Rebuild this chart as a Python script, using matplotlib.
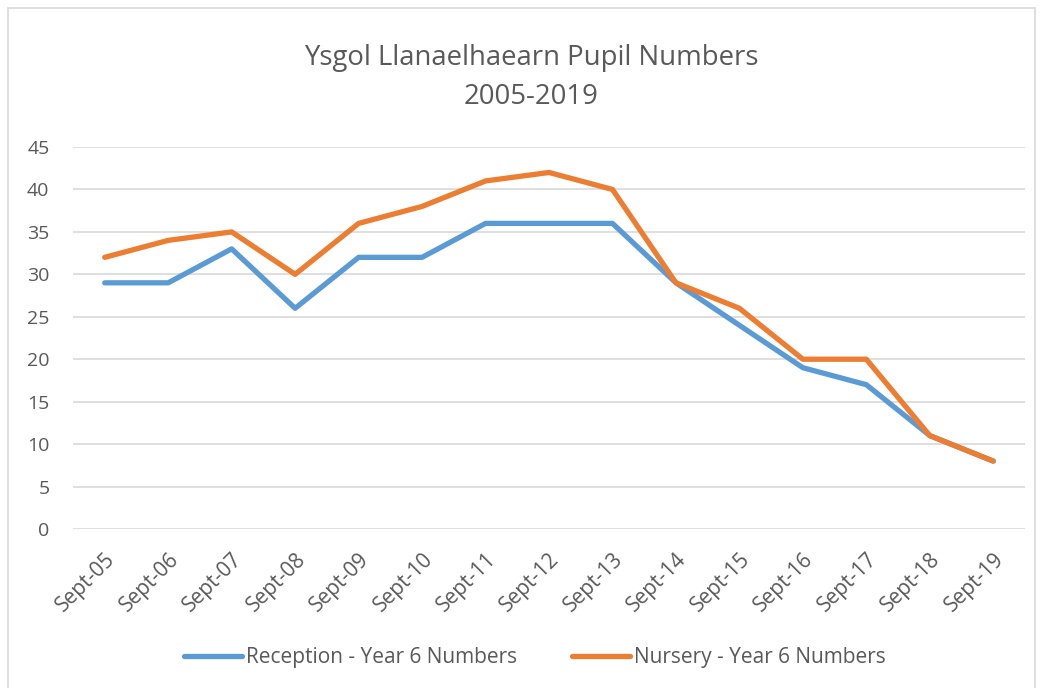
import matplotlib.pyplot as plt
from matplotlib.patches import Rectangle

years = ['Sept-05', 'Sept-06', 'Sept-07', 'Sept-08', 'Sept-09', 'Sept-10', 'Sept-11',
         'Sept-12', 'Sept-13', 'Sept-14', 'Sept-15', 'Sept-16', 'Sept-17', 'Sept-18', 'Sept-19']
reception = [29, 29, 33, 26, 32, 32, 36, 36, 36, 29, 24, 19, 17, 11, 8]
nursery = [32, 34, 35, 30, 36, 38, 41, 42, 40, 29, 26, 20, 20, 11, 8]

plt.rcParams['font.family'] = ['Open Sans', 'DejaVu Sans']
text_col = '#595959'

fig = plt.figure(figsize=(10.43, 6.88), dpi=100)
# light frame round the chart area
fig.patches.append(Rectangle((8 / 1043, -0.01), 1027 / 1043, 1 - 8 / 688 + 0.01,
                             transform=fig.transFigure, fill=False,
                             edgecolor='#D9D9D9', linewidth=1.2))

ax = fig.add_axes([73 / 1043, 1 - 529 / 688, 952 / 1043, 382 / 688])
x = range(len(years))
ax.plot(x, reception, color='#5B9BD5', linewidth=3.8, label='Reception - Year 6 Numbers',
        solid_capstyle='round', solid_joinstyle='round')
ax.plot(x, nursery, color='#ED7D31', linewidth=3.8, label='Nursery - Year 6 Numbers',
        solid_capstyle='round', solid_joinstyle='round')

ax.set_xlim(-0.5, len(years) - 0.5)
ax.set_ylim(0, 45)
ax.set_yticks(range(0, 46, 5))
ax.grid(axis='y', color='#D9D9D9', linewidth=1.2)
ax.set_axisbelow(True)
for s in ax.spines.values():
    s.set_visible(False)
ax.tick_params(length=0, colors=text_col)
ax.tick_params(axis='y', pad=17, labelsize=14)
ax.set_xticks(list(x))
ax.set_xticklabels(years, rotation=45, ha='right', rotation_mode='anchor')
ax.tick_params(axis='x', pad=14, labelsize=15)

fig.text(531 / 1043, 1 - 58 / 688, 'Ysgol Llanaelhaearn Pupil Numbers', ha='center',
         va='center', fontsize=19.8, color=text_col)
fig.text(531 / 1043, 1 - 97 / 688, '2005-2019', ha='center', va='center',
         fontsize=19.8, color=text_col)

fig.legend(loc='center', bbox_to_anchor=(535 / 1043, 1 - 658 / 688), ncol=2, frameon=False,
           fontsize=15, labelcolor=text_col, handlelength=2.8, handletextpad=0.2,
           columnspacing=2.6)

fig.savefig('out.png', dpi=100)
